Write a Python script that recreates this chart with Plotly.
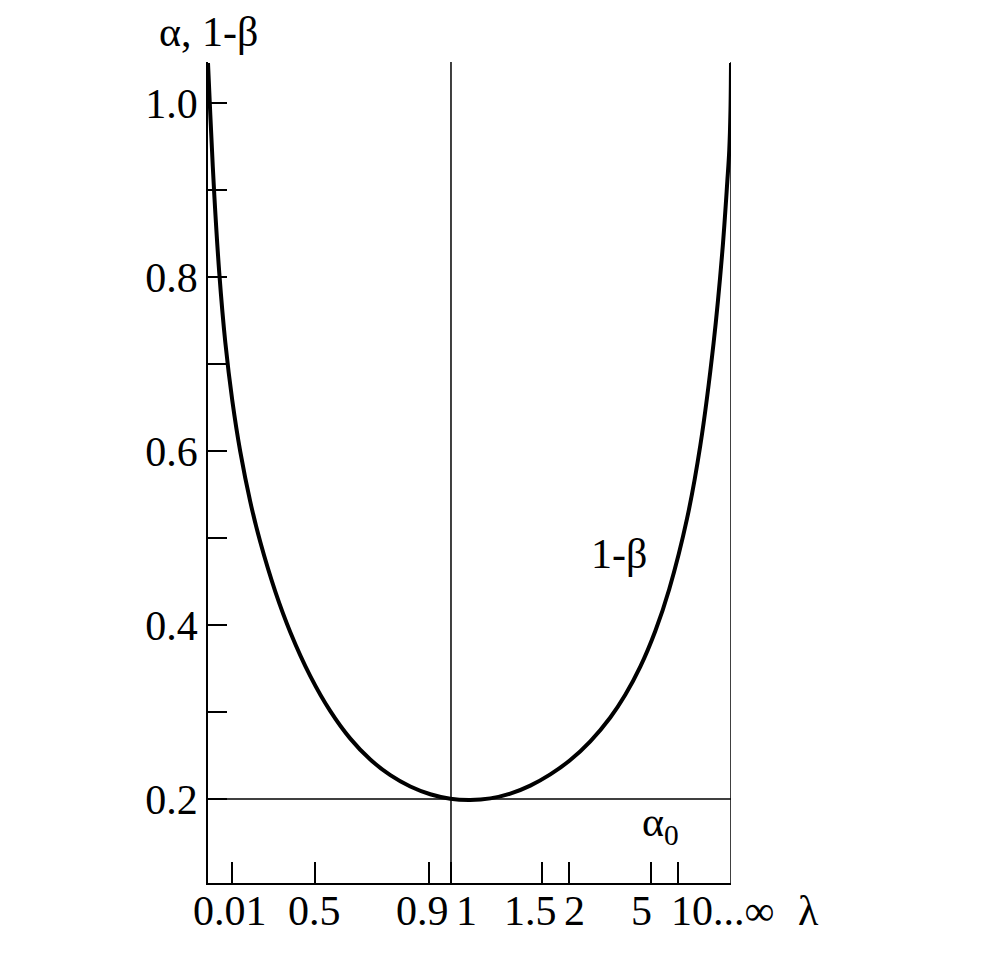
import plotly.graph_objects as go

# ---- data ----
# x positions are on the chart's own (non-linear) lambda scale, 0 = left axis, 1 = "infinity"
x_tick_pos = [0.0459, 0.2052, 0.4231, 0.4646, 0.6386, 0.6908, 0.8470, 0.8992]
x_tick_labels = ["0.01", "0.5", "0.9", "1", "1.5", "2", "5", "10...∞"]
y_tick_vals = [0.2, 0.4, 0.6, 0.8, 1.0]
y_tick_text = ["0.2", "0.4", "0.6", "0.8", "1.0"]

curve_x = [0.0, 0.0044, 0.0120, 0.0216, 0.0331, 0.0465, 0.0618, 0.0809, 0.1000,
           0.1287, 0.1574, 0.1956, 0.2339, 0.2721, 0.3103, 0.3486, 0.3868, 0.4250,
           0.4633, 0.5015,
           0.5398, 0.5780, 0.6162, 0.6545, 0.6927, 0.7310, 0.7692, 0.7979, 0.8266,
           0.8553, 0.8820, 0.9159, 0.9413, 0.9667, 0.9834, 0.9929, 0.9967, 0.9990,
           1.0]
curve_y = [1.046, 0.9868, 0.8948, 0.8043, 0.7249, 0.6578, 0.5990, 0.5415, 0.4953,
           0.4384, 0.3918, 0.3413, 0.3010, 0.2694, 0.2453, 0.2274, 0.2144, 0.2055,
           0.2003, 0.1989,
           0.2007, 0.2062, 0.2154, 0.2283, 0.2448, 0.2663, 0.2937, 0.3198, 0.3521,
           0.3931, 0.4414, 0.5222, 0.6063, 0.7240, 0.8291, 0.9095, 0.9460, 0.9920,
           1.046]

alpha0 = 0.2
lambda_one = 0.4646
y_min, y_max = 0.10345, 1.04713
x_min, x_max = 0.0, 1.0

FONT = "Liberation Serif, Times New Roman, serif"
FS = 42

fig = go.Figure()

# horizontal alpha0 line
fig.add_trace(go.Scatter(x=[x_min, x_max], y=[alpha0, alpha0], mode="lines",
                         line=dict(color="black", width=1.5), hoverinfo="skip"))
# vertical line at lambda = 1
fig.add_trace(go.Scatter(x=[lambda_one, lambda_one], y=[y_min, y_max], mode="lines",
                         line=dict(color="black", width=1.5), hoverinfo="skip"))
# right border line at infinity
fig.add_trace(go.Scatter(x=[x_max, x_max], y=[y_min, y_max], mode="lines",
                         line=dict(color="black", width=1.5), hoverinfo="skip"))
# power curve
fig.add_trace(go.Scatter(x=curve_x, y=curve_y, mode="lines",
                         line=dict(color="black", width=4, shape="spline", smoothing=1.0),
                         hoverinfo="skip"))

# the page body has an 8px margin, so the figure is drawn 16px smaller
fig.update_layout(
    width=977, height=954,
    margin=dict(l=200, r=254, t=54, b=79),
    paper_bgcolor="white", plot_bgcolor="white",
    showlegend=False,
    font=dict(family=FONT, size=FS, color="black"),
    xaxis=dict(range=[x_min, x_max], showgrid=False, zeroline=False,
               showline=True, linecolor="black", linewidth=1.5,
               ticks="inside", ticklen=21, tickwidth=1.5, tickcolor="black",
               tickvals=x_tick_pos, showticklabels=False),
    yaxis=dict(range=[y_min, y_max], showgrid=False, zeroline=False,
               showline=True, linecolor="black", linewidth=1.5,
               ticks="inside", ticklen=19, tickwidth=1.5, tickcolor="black",
               tickvals=y_tick_vals, ticktext=y_tick_text,
               tickfont=dict(family=FONT, size=FS, color="black"),
               ticklabelstandoff=0,
               minor=dict(tick0=0.1, dtick=0.1, ticks="inside", ticklen=19,
                          tickwidth=1.5, tickcolor="black", showgrid=False)),
)

# x tick labels (placed below the axis, small horizontal offsets as in the original)
label_shift = [-2, -1, -7, 16, -11, 5, -9, 0]
for pos, lab, sh in zip(x_tick_pos, x_tick_labels, label_shift):
    if lab.startswith("10"):
        fig.add_annotation(x=pos, y=0, xref="x", yref="paper", text=lab,
                           showarrow=False, xanchor="left", yanchor="middle",
                           xshift=-9, yshift=-28,
                           font=dict(family=FONT, size=FS, color="black"))
    else:
        fig.add_annotation(x=pos, y=0, xref="x", yref="paper", text=lab,
                           showarrow=False, xanchor="center", yanchor="middle",
                           xshift=sh, yshift=-28,
                           font=dict(family=FONT, size=FS, color="black"))

# axis titles
fig.add_annotation(x=0, y=1, xref="paper", yref="paper", text="α, 1-β",
                   showarrow=False, xanchor="center", yanchor="middle", yshift=30,
                   font=dict(family=FONT, size=FS, color="black"))
fig.add_annotation(x=1.148, y=0, xref="paper", yref="paper", text="λ",
                   showarrow=False, xanchor="center", yanchor="middle", yshift=-28,
                   font=dict(family=FONT, size=FS, color="black"))

# curve / line labels
fig.add_annotation(x=0.785, y=0.482, xref="x", yref="y", text="1-β",
                   showarrow=False, xanchor="center", yanchor="middle",
                   font=dict(family=FONT, size=FS, color="black"))
fig.add_annotation(x=0.865, y=0.170, xref="x", yref="y", text="α<sub>0</sub>",
                   showarrow=False, xanchor="center", yanchor="middle",
                   font=dict(family=FONT, size=FS, color="black"))

fig.write_html("out.html")
